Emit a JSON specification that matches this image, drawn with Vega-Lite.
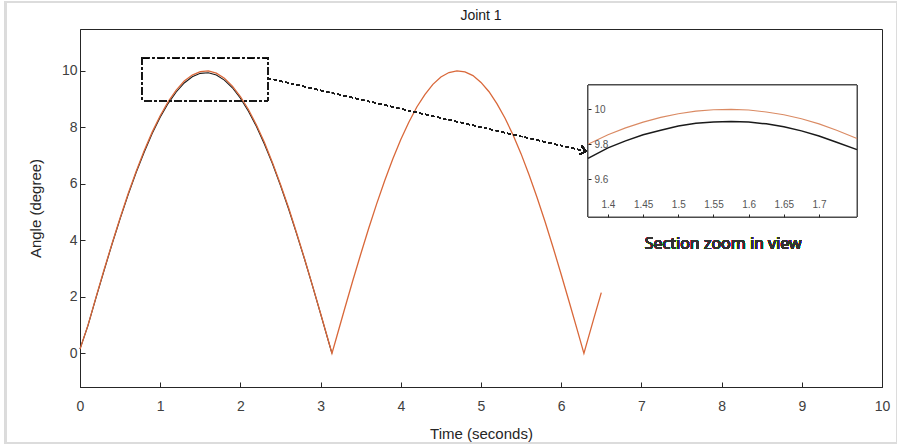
{
  "$schema": "https://vega.github.io/schema/vega-lite/v6.json",
  "autosize": "none",
  "width": 802,
  "height": 358,
  "padding": {"left": 80, "top": 29, "right": 15, "bottom": 58},
  "background": "white",
  "title": {"text": "Joint 1", "fontSize": 14, "fontWeight": "normal", "font": "Liberation Sans", "color": "#1a1a1a", "offset": -22},
  "config": {
    "view": {"stroke": "#262626", "strokeWidth": 1},
    "axis": {"grid": false, "labelFlush": false, "labelOverlap": false, "domainColor": "#262626", "tickColor": "#262626", "labelFont": "Liberation Sans", "titleFont": "Liberation Sans", "labelColor": "#404040", "titleColor": "#262626", "titleFontWeight": "normal"}
  },
  "datasets": {
    "main": [
      {"series": "black", "t": 0, "angle": 0.15},
      {"series": "black", "t": 0.1, "angle": 0.99},
      {"series": "black", "t": 0.2, "angle": 1.97},
      {"series": "black", "t": 0.3, "angle": 2.93},
      {"series": "black", "t": 0.4, "angle": 3.87},
      {"series": "black", "t": 0.5, "angle": 4.76},
      {"series": "black", "t": 0.6, "angle": 5.61},
      {"series": "black", "t": 0.7, "angle": 6.40},
      {"series": "black", "t": 0.8, "angle": 7.12},
      {"series": "black", "t": 0.9, "angle": 7.78},
      {"series": "black", "t": 1.0, "angle": 8.36},
      {"series": "black", "t": 1.1, "angle": 8.85},
      {"series": "black", "t": 1.2, "angle": 9.25},
      {"series": "black", "t": 1.3, "angle": 9.57},
      {"series": "black", "t": 1.4, "angle": 9.79},
      {"series": "black", "t": 1.5, "angle": 9.91},
      {"series": "black", "t": 1.6, "angle": 9.93},
      {"series": "black", "t": 1.7, "angle": 9.85},
      {"series": "black", "t": 1.8, "angle": 9.67},
      {"series": "black", "t": 1.9, "angle": 9.40},
      {"series": "black", "t": 2.0, "angle": 9.03},
      {"series": "black", "t": 2.1, "angle": 8.57},
      {"series": "black", "t": 2.2, "angle": 8.03},
      {"series": "black", "t": 2.3, "angle": 7.40},
      {"series": "black", "t": 2.4, "angle": 6.71},
      {"series": "black", "t": 2.5, "angle": 5.94},
      {"series": "black", "t": 2.6, "angle": 5.12},
      {"series": "black", "t": 2.7, "angle": 4.24},
      {"series": "black", "t": 2.8, "angle": 3.33},
      {"series": "black", "t": 2.9, "angle": 2.38},
      {"series": "black", "t": 3.0, "angle": 1.40},
      {"series": "black", "t": 3.1, "angle": 0.41},
      {"series": "black", "t": 3.1416, "angle": 0},
      {"series": "orange", "t": 0, "angle": 0.15},
      {"series": "orange", "t": 0.1, "angle": 1.00},
      {"series": "orange", "t": 0.2, "angle": 1.99},
      {"series": "orange", "t": 0.3, "angle": 2.96},
      {"series": "orange", "t": 0.4, "angle": 3.89},
      {"series": "orange", "t": 0.5, "angle": 4.79},
      {"series": "orange", "t": 0.6, "angle": 5.65},
      {"series": "orange", "t": 0.7, "angle": 6.44},
      {"series": "orange", "t": 0.8, "angle": 7.17},
      {"series": "orange", "t": 0.9, "angle": 7.83},
      {"series": "orange", "t": 1.0, "angle": 8.41},
      {"series": "orange", "t": 1.1, "angle": 8.91},
      {"series": "orange", "t": 1.2, "angle": 9.32},
      {"series": "orange", "t": 1.3, "angle": 9.64},
      {"series": "orange", "t": 1.4, "angle": 9.85},
      {"series": "orange", "t": 1.5, "angle": 9.97},
      {"series": "orange", "t": 1.6, "angle": 10.00},
      {"series": "orange", "t": 1.7, "angle": 9.92},
      {"series": "orange", "t": 1.8, "angle": 9.74},
      {"series": "orange", "t": 1.9, "angle": 9.46},
      {"series": "orange", "t": 2.0, "angle": 9.09},
      {"series": "orange", "t": 2.1, "angle": 8.63},
      {"series": "orange", "t": 2.2, "angle": 8.08},
      {"series": "orange", "t": 2.3, "angle": 7.46},
      {"series": "orange", "t": 2.4, "angle": 6.75},
      {"series": "orange", "t": 2.5, "angle": 5.98},
      {"series": "orange", "t": 2.6, "angle": 5.16},
      {"series": "orange", "t": 2.7, "angle": 4.27},
      {"series": "orange", "t": 2.8, "angle": 3.35},
      {"series": "orange", "t": 2.9, "angle": 2.39},
      {"series": "orange", "t": 3.0, "angle": 1.41},
      {"series": "orange", "t": 3.1, "angle": 0.42},
      {"series": "orange", "t": 3.1416, "angle": 0},
      {"series": "orange", "t": 3.2, "angle": 0.58},
      {"series": "orange", "t": 3.3, "angle": 1.58},
      {"series": "orange", "t": 3.4, "angle": 2.56},
      {"series": "orange", "t": 3.5, "angle": 3.51},
      {"series": "orange", "t": 3.6, "angle": 4.43},
      {"series": "orange", "t": 3.7, "angle": 5.30},
      {"series": "orange", "t": 3.8, "angle": 6.12},
      {"series": "orange", "t": 3.9, "angle": 6.88},
      {"series": "orange", "t": 4.0, "angle": 7.57},
      {"series": "orange", "t": 4.1, "angle": 8.18},
      {"series": "orange", "t": 4.2, "angle": 8.72},
      {"series": "orange", "t": 4.3, "angle": 9.16},
      {"series": "orange", "t": 4.4, "angle": 9.52},
      {"series": "orange", "t": 4.5, "angle": 9.78},
      {"series": "orange", "t": 4.6, "angle": 9.94},
      {"series": "orange", "t": 4.7, "angle": 10.00},
      {"series": "orange", "t": 4.8, "angle": 9.96},
      {"series": "orange", "t": 4.9, "angle": 9.83},
      {"series": "orange", "t": 5.0, "angle": 9.59},
      {"series": "orange", "t": 5.1, "angle": 9.26},
      {"series": "orange", "t": 5.2, "angle": 8.83},
      {"series": "orange", "t": 5.3, "angle": 8.32},
      {"series": "orange", "t": 5.4, "angle": 7.73},
      {"series": "orange", "t": 5.5, "angle": 7.06},
      {"series": "orange", "t": 5.6, "angle": 6.31},
      {"series": "orange", "t": 5.7, "angle": 5.51},
      {"series": "orange", "t": 5.8, "angle": 4.65},
      {"series": "orange", "t": 5.9, "angle": 3.74},
      {"series": "orange", "t": 6.0, "angle": 2.79},
      {"series": "orange", "t": 6.1, "angle": 1.82},
      {"series": "orange", "t": 6.2, "angle": 0.83},
      {"series": "orange", "t": 6.2832, "angle": 0},
      {"series": "orange", "t": 6.3, "angle": 0.17},
      {"series": "orange", "t": 6.4, "angle": 1.17},
      {"series": "orange", "t": 6.5, "angle": 2.15}
    ],
    "inset": [
      {"series": "black", "t": 1.3716, "angle": 9.72},
      {"series": "black", "t": 1.4, "angle": 9.78},
      {"series": "black", "t": 1.425, "angle": 9.82},
      {"series": "black", "t": 1.45, "angle": 9.855},
      {"series": "black", "t": 1.475, "angle": 9.88},
      {"series": "black", "t": 1.5, "angle": 9.905},
      {"series": "black", "t": 1.525, "angle": 9.92},
      {"series": "black", "t": 1.55, "angle": 9.928},
      {"series": "black", "t": 1.575, "angle": 9.93},
      {"series": "black", "t": 1.6, "angle": 9.927},
      {"series": "black", "t": 1.625, "angle": 9.917},
      {"series": "black", "t": 1.65, "angle": 9.9},
      {"series": "black", "t": 1.675, "angle": 9.877},
      {"series": "black", "t": 1.7, "angle": 9.848},
      {"series": "black", "t": 1.725, "angle": 9.812},
      {"series": "black", "t": 1.754, "angle": 9.77},
      {"series": "orange", "t": 1.3716, "angle": 9.80},
      {"series": "orange", "t": 1.4, "angle": 9.855},
      {"series": "orange", "t": 1.425, "angle": 9.894},
      {"series": "orange", "t": 1.45, "angle": 9.927},
      {"series": "orange", "t": 1.475, "angle": 9.954},
      {"series": "orange", "t": 1.5, "angle": 9.975},
      {"series": "orange", "t": 1.525, "angle": 9.99},
      {"series": "orange", "t": 1.55, "angle": 9.998},
      {"series": "orange", "t": 1.575, "angle": 10.0},
      {"series": "orange", "t": 1.6, "angle": 9.996},
      {"series": "orange", "t": 1.625, "angle": 9.985},
      {"series": "orange", "t": 1.65, "angle": 9.969},
      {"series": "orange", "t": 1.675, "angle": 9.946},
      {"series": "orange", "t": 1.7, "angle": 9.917},
      {"series": "orange", "t": 1.725, "angle": 9.881},
      {"series": "orange", "t": 1.754, "angle": 9.833}
    ]
  },
  "layer": [
    {
      "data": {"name": "main"},
      "layer": [
        {
          "transform": [{"filter": "datum.series === 'black'"}],
          "mark": {"type": "line", "color": "#1a1a1a", "strokeWidth": 1.1},
          "encoding": {
            "x": {"field": "t", "type": "quantitative", "scale": {"domain": [0, 10], "nice": false, "zero": false},
                  "axis": {"values": [0,1,2,3,4,5,6,7,8,9,10], "format": "d", "tickSize": -5, "labelPadding": 17, "labelFontSize": 14, "title": "Time (seconds)", "titleFontSize": 15, "titlePadding": 13}},
            "y": {"field": "angle", "type": "quantitative", "scale": {"domain": [-1.19, 11.48], "nice": false, "zero": false},
                  "axis": {"values": [0,2,4,6,8,10], "format": "d", "tickSize": -5, "labelPadding": 8, "labelFontSize": 14, "title": "Angle (degree)", "titleFontSize": 15, "titlePadding": 18}}
          }
        },
        {
          "transform": [{"filter": "datum.series === 'orange'"}],
          "mark": {"type": "line", "color": "#D9683A", "strokeWidth": 1.3},
          "encoding": {
            "x": {"field": "t", "type": "quantitative"},
            "y": {"field": "angle", "type": "quantitative"}
          }
        },
        {
          "mark": {"type": "rect", "fill": null, "stroke": "#1a1a1a", "strokeWidth": 1, "strokeDash": [7, 3, 2, 3]},
          "encoding": {
            "x": {"datum": 0.778}, "x2": {"datum": 2.34},
            "y": {"datum": 10.47}, "y2": {"datum": 8.94}
          }
        },
        {
          "mark": {"type": "rect", "fill": null, "stroke": "#dcdcdc", "strokeWidth": 2},
          "encoding": {
            "x": {"datum": -0.923}, "x2": {"datum": 10.19},
            "y": {"datum": 12.436}, "y2": {"datum": -3.172}
          }
        },
        {
          "mark": {"type": "rule", "stroke": "#1a1a1a", "strokeWidth": 1, "strokeDash": [3, 3]},
          "encoding": {
            "x": {"datum": 2.34}, "x2": {"datum": 6.31},
            "y": {"datum": 9.74}, "y2": {"datum": 7.15}
          }
        },
        {
          "mark": {"type": "point", "shape": "M-1,-0.8L0,0L-1,0.8", "filled": false, "stroke": "#1a1a1a", "strokeWidth": 1.2, "size": 120, "angle": 12.5, "opacity": 1},
          "encoding": {
            "x": {"datum": 6.31},
            "y": {"datum": 7.15}
          }
        },
        {
          "mark": {"type": "text", "text": "Section zoom in view", "font": "Noto Sans", "fontSize": 16, "fontWeight": 400, "fill": "#333333", "stroke": null, "align": "center", "baseline": "middle"},
          "encoding": {
            "x": {"datum": 8.02},
            "y": {"datum": 3.87}
          }
        }
      ]
    },
    {
      "data": {"name": "inset"},
      "layer": [
        {
          "mark": {"type": "rect", "fill": "white", "stroke": "#4d4d4d", "strokeWidth": 1},
          "encoding": {
            "x": {"datum": 1.3716}, "x2": {"datum": 1.754},
            "y": {"datum": 9.385}, "y2": {"datum": 10.139}
          }
        },
        {
          "transform": [{"filter": "datum.series === 'black'"}],
          "mark": {"type": "line", "color": "#1a1a1a", "strokeWidth": 1.5, "clip": true},
          "encoding": {
            "x": {"field": "t", "type": "quantitative", "scale": {"domain": [1.3716, 1.754], "range": [508, 777], "nice": false, "zero": false},
                  "axis": {"orient": "bottom", "offset": -170, "zindex": 2, "domain": false, "values": [1.4,1.45,1.5,1.55,1.6,1.65,1.7], "format": "~g", "tickSize": -3, "labelPadding": -5, "labelBaseline": "bottom", "labelFontSize": 10, "labelColor": "#555", "title": null}},
            "y": {"field": "angle", "type": "quantitative", "scale": {"domain": [9.385, 10.139], "range": [188, 56], "nice": false, "zero": false},
                  "axis": {"orient": "left", "offset": -508, "zindex": 2, "domain": false, "values": [9.6, 9.8, 10], "format": "~g", "tickSize": -3, "labelPadding": -3, "labelAlign": "left", "labelFontSize": 10, "labelColor": "#555", "title": null}}
          }
        },
        {
          "transform": [{"filter": "datum.series === 'orange'"}],
          "mark": {"type": "line", "color": "#DA8A63", "strokeWidth": 1.1, "clip": true},
          "encoding": {
            "x": {"field": "t", "type": "quantitative"},
            "y": {"field": "angle", "type": "quantitative"}
          }
        }
      ]
    }
  ],
  "resolve": {"scale": {"x": "independent", "y": "independent"}, "axis": {"x": "independent", "y": "independent"}}
}
